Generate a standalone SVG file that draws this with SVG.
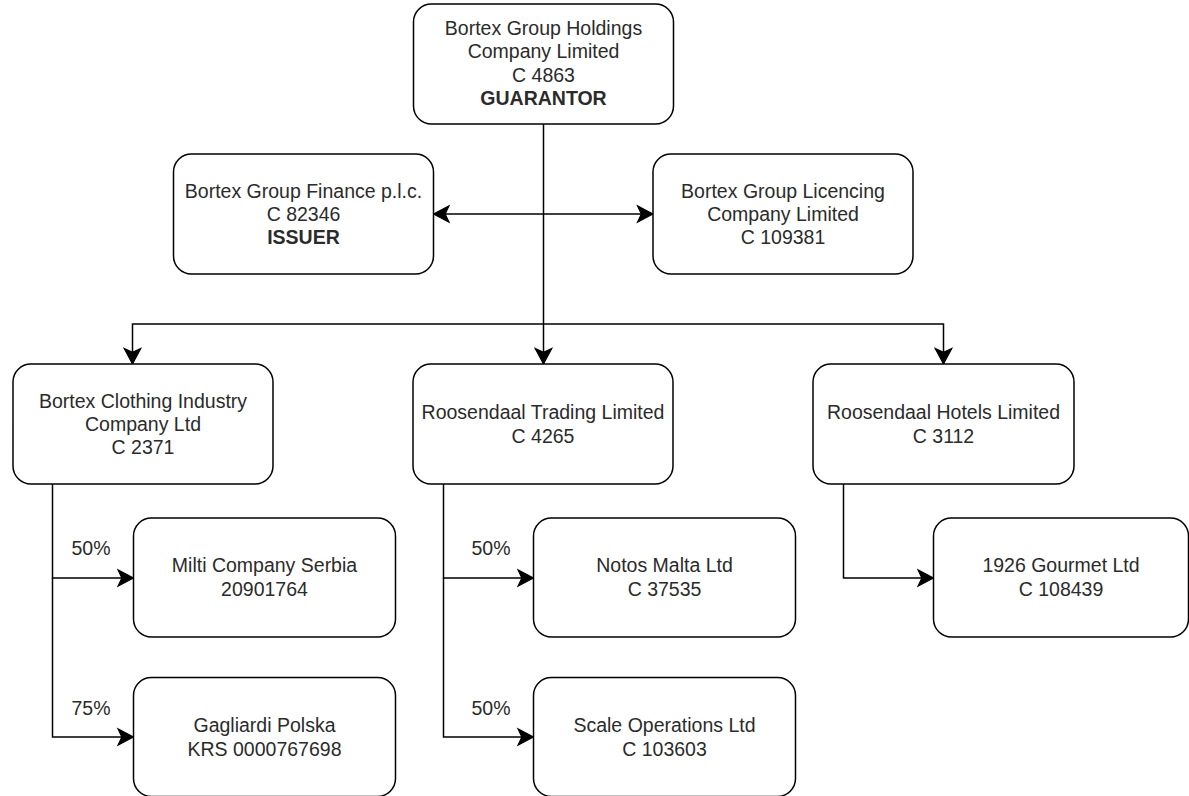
<svg xmlns="http://www.w3.org/2000/svg" width="1189" height="796" viewBox="0 0 1189 796">
<defs>
<marker id="arr" markerUnits="userSpaceOnUse" markerWidth="20" markerHeight="20" viewBox="-16 -9 18 18" refX="0" refY="0" orient="auto-start-reverse">
<path d="M0,0 L-14,-7.5 L-10.5,0 L-14,7.5 Z" fill="#000" stroke="#000" stroke-width="1"/>
</marker>
<style>
.box{fill:#fff;stroke:#000;stroke-width:1.5}
.t{font-family:"Liberation Sans",Arial,sans-serif;font-size:19.5px;fill:#2b2b2b;text-anchor:middle}
.b{font-weight:bold}
.c{fill:none;stroke:#000;stroke-width:1.5}
.lbl{font-family:"Liberation Sans",Arial,sans-serif;font-size:19.5px;fill:#2b2b2b;text-anchor:middle}
</style>
</defs>
<rect width="1189" height="796" fill="#fff"/>
<g id="connectors">
<path class="c" d="M543.5,124 V364" marker-end="url(#arr)"/>
<path class="c" d="M543.5,214 H433.5" marker-end="url(#arr)"/>
<path class="c" d="M543.5,214 H653" marker-end="url(#arr)"/>
<path class="c" d="M543.5,324 H132.5 V364" marker-end="url(#arr)"/>
<path class="c" d="M543.5,324 H943.5 V364" marker-end="url(#arr)"/>
<path class="c" d="M52.5,484 V578 H133.5" marker-end="url(#arr)"/>
<path class="c" d="M52.5,578 V737 H133.5" marker-end="url(#arr)"/>
<path class="c" d="M443.5,484 V578 H533.5" marker-end="url(#arr)"/>
<path class="c" d="M443.5,578 V737 H533.5" marker-end="url(#arr)"/>
<path class="c" d="M843.5,484 V578 H933.5" marker-end="url(#arr)"/>
<text class="lbl" x="91" y="555">50%</text>
<text class="lbl" x="91" y="715">75%</text>
<text class="lbl" x="491" y="555">50%</text>
<text class="lbl" x="491" y="715">50%</text>
</g>
<g id="guarantor">
<rect class="box" x="413.5" y="4" width="260" height="120" rx="18"/>
<text class="t" x="543.5" y="35">Bortex Group Holdings</text>
<text class="t" x="543.5" y="58.4">Company Limited</text>
<text class="t" x="543.5" y="81.8">C 4863</text>
<text class="t b" x="543.5" y="105.2">GUARANTOR</text>
</g>
<g id="finance">
<rect class="box" x="173.5" y="154" width="260" height="120" rx="18"/>
<text class="t" x="303.5" y="197.6">Bortex Group Finance p.l.c.</text>
<text class="t" x="303.5" y="221">C 82346</text>
<text class="t b" x="303.5" y="244.4">ISSUER</text>
</g>
<g id="licencing">
<rect class="box" x="653" y="154" width="260" height="120" rx="18"/>
<text class="t" x="783" y="197.6">Bortex Group Licencing</text>
<text class="t" x="783" y="221">Company Limited</text>
<text class="t" x="783" y="244.4">C 109381</text>
</g>
<g id="clothing">
<rect class="box" x="13" y="364" width="260" height="120" rx="18"/>
<text class="t" x="143" y="407.6">Bortex Clothing Industry</text>
<text class="t" x="143" y="431">Company Ltd</text>
<text class="t" x="143" y="454.4">C 2371</text>
</g>
<g id="trading">
<rect class="box" x="413" y="364" width="260" height="120" rx="18"/>
<text class="t" x="543" y="419.3">Roosendaal Trading Limited</text>
<text class="t" x="543" y="442.7">C 4265</text>
</g>
<g id="hotels">
<rect class="box" x="813" y="364" width="261" height="120" rx="18"/>
<text class="t" x="943.5" y="419.3">Roosendaal Hotels Limited</text>
<text class="t" x="943.5" y="442.7">C 3112</text>
</g>
<g id="milti">
<rect class="box" x="133.5" y="518" width="262" height="119" rx="18"/>
<text class="t" x="264.5" y="572.3">Milti Company Serbia</text>
<text class="t" x="264.5" y="595.7">20901764</text>
</g>
<g id="gagliardi">
<rect class="box" x="133.5" y="677.5" width="262" height="119" rx="18"/>
<text class="t" x="264.5" y="732.3">Gagliardi Polska</text>
<text class="t" x="264.5" y="755.7">KRS 0000767698</text>
</g>
<g id="notos">
<rect class="box" x="533.5" y="518" width="262" height="119" rx="18"/>
<text class="t" x="664.5" y="572.3">Notos Malta Ltd</text>
<text class="t" x="664.5" y="595.7">C 37535</text>
</g>
<g id="scale">
<rect class="box" x="533.5" y="677.5" width="262" height="119" rx="18"/>
<text class="t" x="664.5" y="732.3">Scale Operations Ltd</text>
<text class="t" x="664.5" y="755.7">C 103603</text>
</g>
<g id="gourmet">
<rect class="box" x="933.5" y="518" width="255" height="119" rx="18"/>
<text class="t" x="1061" y="572.3">1926 Gourmet Ltd</text>
<text class="t" x="1061" y="595.7">C 108439</text>
</g>
</svg>
